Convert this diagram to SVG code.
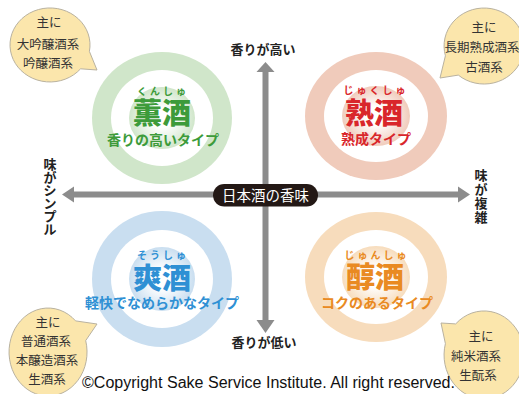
<svg xmlns="http://www.w3.org/2000/svg" width="519" height="394" viewBox="0 0 519 394">
<style>
.jp{font-family:"Noto Sans CJK JP","Noto Sans",sans-serif}
.bub{fill:#fbe6ac;stroke:#b9b2a0;stroke-width:1}
.bt{font-family:"Noto Sans CJK JP",sans-serif;font-size:12.5px;fill:#333;text-anchor:middle}
.ax{stroke:#8c8c8c;stroke-width:6;fill:none}
.ah{fill:#8c8c8c}
.al{font-family:"Noto Sans CJK JP",sans-serif;font-size:13px;font-weight:700;fill:#222;text-anchor:middle}
.main{font-family:"Noto Sans CJK JP",sans-serif;font-size:29px;font-weight:900;text-anchor:middle}
.sub{font-family:"Noto Sans CJK JP",sans-serif;font-size:14px;font-weight:700;text-anchor:middle}
.fur{font-family:"Noto Sans CJK JP",sans-serif;font-size:10px;font-weight:700;text-anchor:middle;letter-spacing:3px}
</style>
<defs>
<radialGradient id="gG"><stop offset="0.3" stop-color="#fff"/><stop offset="1" stop-color="#d0e6ca"/></radialGradient>
<radialGradient id="gR"><stop offset="0.3" stop-color="#fff"/><stop offset="1" stop-color="#f0cbbb"/></radialGradient>
<radialGradient id="gB"><stop offset="0.3" stop-color="#fff"/><stop offset="1" stop-color="#c9def0"/></radialGradient>
<radialGradient id="gO"><stop offset="0.3" stop-color="#fff"/><stop offset="1" stop-color="#f7dcbc"/></radialGradient>
</defs>
<rect width="519" height="394" fill="#fff"/>

<g id="kunshu">
<ellipse cx="162" cy="118" rx="70" ry="66" fill="#d0e6ca"/>
<ellipse cx="162" cy="118" rx="51" ry="48" fill="#fff"/>
<ellipse cx="162" cy="118" rx="33" ry="31" fill="url(#gG)"/>
<text class="fur" x="163" y="95" fill="#3d9b3a">くんしゅ</text>
<text class="main" x="162" y="124" fill="#3d9b3a">薫酒</text>
<text class="sub" x="163" y="145" fill="#3d9b3a">香りの高いタイプ</text>
</g>

<g id="jukushu">
<ellipse cx="376" cy="116" rx="71" ry="64" fill="#f0cbbb"/>
<ellipse cx="376" cy="116" rx="52" ry="46" fill="#fff"/>
<ellipse cx="376" cy="116" rx="34" ry="30" fill="url(#gR)"/>
<text class="fur" x="376" y="94" fill="#d9262b">じゅくしゅ</text>
<text class="main" x="374" y="124" fill="#d9262b">熟酒</text>
<text class="sub" x="376" y="144" fill="#d9262b">熟成タイプ</text>
</g>

<g id="soushu">
<ellipse cx="162" cy="279" rx="70" ry="68" fill="#c9def0"/>
<ellipse cx="162" cy="279" rx="51" ry="49" fill="#fff"/>
<ellipse cx="162" cy="279" rx="33" ry="32" fill="url(#gB)"/>
<text class="fur" x="163" y="259" fill="#2f90d4">そうしゅ</text>
<text class="main" x="162" y="289" fill="#2f90d4">爽酒</text>
<text class="sub" x="162" y="308" fill="#2f90d4">軽快でなめらかなタイプ</text>
</g>

<g id="junshu">
<ellipse cx="376" cy="277" rx="71" ry="65" fill="#f7dcbc"/>
<ellipse cx="376" cy="277" rx="52" ry="47" fill="#fff"/>
<ellipse cx="376" cy="277" rx="34" ry="31" fill="url(#gO)"/>
<text class="fur" x="377" y="259" fill="#e98a22">じゅんしゅ</text>
<text class="main" x="375" y="288" fill="#e98a22">醇酒</text>
<text class="sub" x="377" y="308" fill="#e98a22">コクのあるタイプ</text>
</g>

<g id="connectors">
<line class="ax" x1="72" y1="194.5" x2="460" y2="194.5"/>
<polygon class="ah" points="62,194.5 74,186.5 74,202.5"/>
<polygon class="ah" points="470,194.5 458,186.5 458,202.5"/>
<line class="ax" x1="265.5" y1="70" x2="265.5" y2="322"/>
<polygon class="ah" points="265.5,62 256.5,72 274.5,72"/>
<polygon class="ah" points="265.5,333 256.5,320 274.5,320"/>
</g>

<g id="axis-labels">
<text class="al" x="263" y="54">香りが高い</text>
<text class="al" x="264" y="347">香りが低い</text>
<text class="al" x="50" y="169"><tspan x="50">味</tspan><tspan x="50" dy="13">が</tspan><tspan x="50" dy="13">シ</tspan><tspan x="50" dy="13">ン</tspan><tspan x="50" dy="13">プ</tspan><tspan x="50" dy="13">ル</tspan></text>
<text class="al" x="481" y="180"><tspan x="481">味</tspan><tspan x="481" dy="14">が</tspan><tspan x="481" dy="14">複</tspan><tspan x="481" dy="14">雑</tspan></text>
</g>

<g id="center-label">
<rect x="213" y="184" width="105" height="22.5" rx="11.25" fill="#231815"/>
<text class="jp" x="265.5" y="200.5" font-size="14.5" fill="#fff" text-anchor="middle">日本酒の香味</text>
</g>

<g id="bubble-tl">
<path class="bub" d="M89.4 51.4 L97 70 L80.6 68.8 A40 37 0 1 1 89.4 51.4 Z"/>
<text class="bt" x="49" y="27">主に</text>
<text class="bt" x="48" y="49">大吟醸酒系</text>
<text class="bt" x="48" y="68">吟醸酒系</text>
</g>

<g id="bubble-tr">
<path class="bub" d="M458.3 75.1 L440 78 L445.4 55.8 A40 38 0 1 1 458.3 75.1 Z"/>
<text class="bt" x="484" y="32">主に</text>
<text class="bt" x="482" y="52">長期熟成酒系</text>
<text class="bt" x="484" y="72">古酒系</text>
</g>

<g id="bubble-bl">
<path class="bub" d="M75.6 320.9 L97 324 L85.7 340.6 A39 44 0 1 1 75.6 320.9 Z"/>
<text class="bt" x="48" y="327">主に</text>
<text class="bt" x="46" y="346">普通酒系</text>
<text class="bt" x="47" y="365">本醸造酒系</text>
<text class="bt" x="47" y="384">生酒系</text>
</g>

<g id="bubble-br">
<path class="bub" d="M445.4 343.6 L441 323 L455.7 323.9 A40 44 0 1 1 445.4 343.6 Z"/>
<text class="bt" x="481" y="341">主に</text>
<text class="bt" x="476" y="361">純米酒系</text>
<text class="bt" x="478" y="380">生酛系</text>
</g>

<text x="82" y="388" font-family="'Liberation Sans',Arial,sans-serif" font-size="16" fill="#111" textLength="373" lengthAdjust="spacingAndGlyphs">©Copyright Sake Service Institute. All right reserved.</text>
</svg>
